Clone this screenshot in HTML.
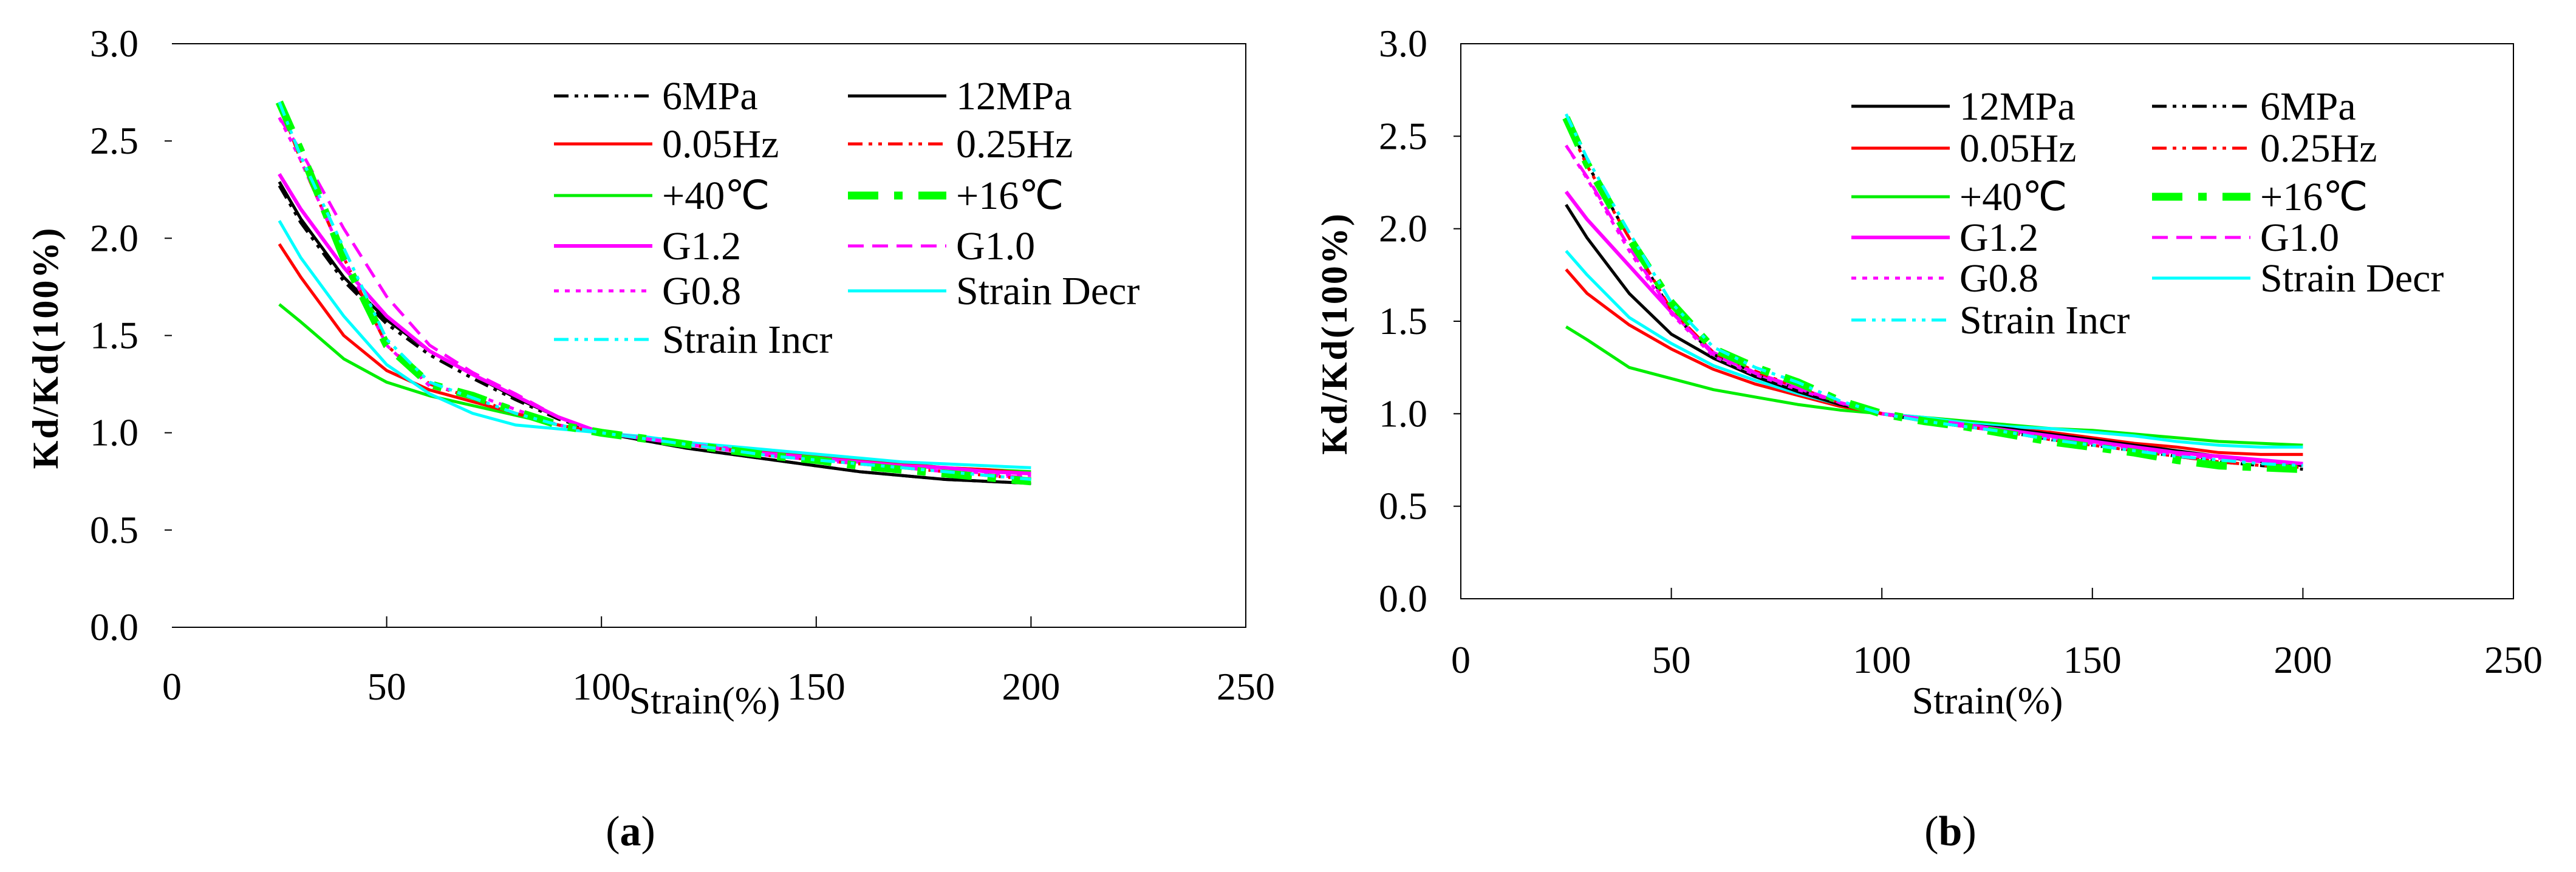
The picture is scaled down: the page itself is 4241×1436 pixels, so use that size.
<!DOCTYPE html>
<html><head><meta charset="utf-8"><style>
html,body{margin:0;padding:0;background:#fff;}
svg{display:block;font-family:"Liberation Serif","Times New Roman",serif;}
svg text{font-family:"Liberation Serif","Times New Roman",serif !important;fill:#000;}
</style></head><body>
<svg id="fig" width="4241" height="1436" viewBox="0 0 4241 1436" xmlns="http://www.w3.org/2000/svg" font-family="Liberation Serif, serif"></svg>
<script>
const strainX = [25,30,40,50,60,70,80,90,100,110,120,130,140,150,160,170,180,190,200];
const xTickLabels = ["0","50","100","150","200","250"];
const yTickLabels = ["0.0","0.5","1.0","1.5","2.0","2.5","3.0"];
const a6MPa   = [2.27,2.08,1.78,1.56,1.4,1.28,1.17,1.07,1.0,0.96,0.92,0.89,0.86,0.83,0.8,0.78,0.76,0.75,0.74];
const a12MPa  = [2.29,2.1,1.8,1.58,1.42,1.3,1.18,1.08,1.0,0.96,0.92,0.89,0.86,0.83,0.8,0.78,0.76,0.75,0.74];
const a005Hz  = [1.97,1.8,1.5,1.32,1.22,1.16,1.1,1.04,1.0,0.97,0.94,0.92,0.9,0.88,0.86,0.84,0.82,0.81,0.79];
const a025Hz  = [2.7,2.4,1.9,1.45,1.25,1.18,1.1,1.04,1.0,0.97,0.94,0.91,0.88,0.86,0.84,0.82,0.8,0.78,0.76];
const a40C    = [1.66,1.57,1.38,1.26,1.19,1.14,1.09,1.04,1.0,0.97,0.94,0.92,0.9,0.88,0.86,0.84,0.82,0.81,0.8];
const a16C    = [2.7,2.45,1.9,1.45,1.25,1.19,1.11,1.04,1.0,0.97,0.94,0.91,0.88,0.86,0.83,0.81,0.79,0.77,0.75];
const aG12    = [2.33,2.15,1.85,1.6,1.42,1.3,1.19,1.08,1.0,0.97,0.94,0.91,0.89,0.87,0.85,0.83,0.82,0.8,0.79];
const aG10    = [2.62,2.45,2.05,1.7,1.45,1.31,1.2,1.08,1.0,0.97,0.94,0.91,0.88,0.86,0.84,0.82,0.8,0.78,0.77];
const aG08    = [2.62,2.4,1.9,1.45,1.24,1.2,1.12,1.04,1.0,0.97,0.94,0.92,0.89,0.87,0.85,0.83,0.81,0.79,0.78];
const aDecr   = [2.09,1.9,1.6,1.35,1.2,1.1,1.04,1.02,1.0,0.98,0.95,0.93,0.91,0.89,0.87,0.85,0.84,0.83,0.82];
const aIncr   = [2.7,2.42,1.95,1.48,1.26,1.18,1.1,1.04,1.0,0.97,0.94,0.91,0.88,0.86,0.84,0.82,0.8,0.78,0.76];
const b12MPa  = [2.13,1.95,1.65,1.43,1.3,1.2,1.12,1.05,1.0,0.97,0.94,0.92,0.89,0.86,0.83,0.8,0.77,0.74,0.72];
const b6MPa   = [2.6,2.35,1.95,1.55,1.32,1.22,1.13,1.05,1.0,0.96,0.93,0.9,0.86,0.83,0.8,0.77,0.74,0.72,0.7];
const b005Hz  = [1.78,1.65,1.48,1.35,1.24,1.16,1.1,1.04,1.0,0.97,0.94,0.92,0.9,0.87,0.84,0.82,0.79,0.78,0.78];
const b025Hz  = [2.58,2.34,1.95,1.56,1.33,1.23,1.14,1.06,1.0,0.96,0.93,0.9,0.86,0.83,0.8,0.77,0.74,0.72,0.71];
const b40C    = [1.47,1.4,1.25,1.19,1.13,1.09,1.05,1.02,1.0,0.98,0.96,0.94,0.92,0.91,0.89,0.87,0.85,0.84,0.83];
const b16C    = [2.6,2.35,1.95,1.6,1.35,1.25,1.17,1.07,1.0,0.96,0.93,0.89,0.85,0.82,0.79,0.75,0.72,0.71,0.7];
const bG12    = [2.2,2.05,1.8,1.55,1.33,1.22,1.14,1.06,1.0,0.97,0.94,0.91,0.88,0.85,0.82,0.79,0.77,0.75,0.73];
const bG10    = [2.45,2.28,1.9,1.55,1.32,1.22,1.14,1.06,1.0,0.97,0.93,0.9,0.87,0.84,0.81,0.78,0.76,0.74,0.73];
const bG08    = [2.45,2.27,1.88,1.54,1.31,1.21,1.13,1.06,1.0,0.97,0.93,0.9,0.87,0.84,0.81,0.78,0.76,0.74,0.73];
const bDecr   = [1.88,1.75,1.52,1.38,1.26,1.18,1.11,1.05,1.0,0.98,0.95,0.93,0.92,0.9,0.88,0.85,0.83,0.82,0.82];
const bIncr   = [2.62,2.38,1.98,1.6,1.36,1.25,1.17,1.07,1.0,0.96,0.93,0.9,0.86,0.83,0.8,0.77,0.75,0.73,0.72];

const NS="http://www.w3.org/2000/svg";
const svg=document.getElementById('fig');
const FONT='Liberation Serif, Times New Roman, serif';
function mk(tag,attrs,parent){const e=document.createElementNS(NS,tag);for(const k in attrs)e.setAttribute(k,attrs[k]);if(tag==='text')e.setAttribute('font-family',FONT);(parent||svg).appendChild(e);return e;}

const styles={
 "6MPa":{c:"#000",w:5,d:"24 10 6 10 6 10"},
 "12MPa":{c:"#000",w:5,d:""},
 "0.05Hz":{c:"#ff0000",w:5,d:""},
 "0.25Hz":{c:"#ff0000",w:5,d:"24 10 6 10 6 10"},
 "+40℃":{c:"#00ee00",w:5,d:""},
 "+16℃":{c:"#00ff00",w:13,d:"50 26 14 26"},
 "G1.2":{c:"#ff00ff",w:6,d:""},
 "G1.0":{c:"#ff00ff",w:5,d:"26 14"},
 "G0.8":{c:"#ff00ff",w:5,d:"8 10"},
 "Strain Decr":{c:"#00ffff",w:5,d:""},
 "Strain Incr":{c:"#00ffff",w:5,d:"24 10 6 10 6 10"}
};

function chart(cfg){
 const g=mk('g',{});
 
 
 const {L,R,T,B}=cfg;
 const xs=v=>L+(v/250)*(R-L);
 const ys=v=>B-(v/3)*(B-T);
 const frame=mk('path',{d:cfg.leftAxis?`M${L},${T}H${R}V${B}H${L}Z`:`M${L},${T}H${R}V${B}H${L}`,fill:'none',stroke:'#000','stroke-width':2},g);
 
 
 yTickLabels.forEach((t,i)=>{
  const v=i*0.5,y=ys(v);
  if(i>0&&i<6){const tk=mk('line',{x1:L-12,x2:L,y1:y,y2:y,stroke:'#000','stroke-width':2},g);
   }
  const tx=mk('text',{x:L-55,y:y+21,'font-size':64,'text-anchor':'end'},g);
  tx.textContent=t;
  
  
 });
 xTickLabels.forEach((t,i)=>{
  const x=xs(i*50);
  if(i>0&&i<5){const tk=mk('line',{x1:x,x2:x,y1:B-18,y2:B,stroke:'#000','stroke-width':2},g);
   }
  const tx=mk('text',{x:x,y:cfg.xLabY,'font-size':64,'text-anchor':'middle'},g);
  tx.textContent=t;
  
  
 });
 const xt=mk('text',{x:cfg.xTitleX,y:cfg.xTitleY,'font-size':64,'text-anchor':'middle'},g);
 xt.textContent='Strain(%)';
 
 
 const yt=mk('text',{x:0,y:0,'font-size':60,'font-weight':'bold','text-anchor':'middle',transform:`translate(${L-188},${(T+B)/2+20}) rotate(-90)`,'letter-spacing':'3'},g);
 yt.textContent='Kd/Kd(100%)';
 
 
 cfg.series.forEach(([nm,vals])=>{
  const s=styles[nm];
  const pts=strainX.map((x,i)=>xs(x).toFixed(1)+','+ys(vals[i]).toFixed(1)).join(' ');
  const pl=mk('polyline',{points:pts,fill:'none',stroke:s.c,'stroke-width':s.w,'stroke-linejoin':'round'},g);
  if(s.d)pl.setAttribute('stroke-dasharray',s.d);
  
  
 });
 cfg.legend.forEach((nm,i)=>{
  const col=i%2,row=Math.floor(i/2);
  const s=styles[nm];
  const y=cfg.legRows[row];
  const lx=cfg.legCols[col];
  const le=mk('g',{},g);
  
  
  const ln=mk('line',{x1:lx,x2:lx+162,y1:y,y2:y,stroke:s.c,'stroke-width':s.w},le);
  if(s.d)ln.setAttribute('stroke-dasharray',s.d);
  
  
  const tx=mk('text',{x:lx+178,y:y+22,'font-size':66},le);
  tx.textContent=nm;
  
  
 });
 const cap=mk('text',{x:cfg.capX,y:1392,'font-size':70,'text-anchor':'middle'},g);
 cap.innerHTML='(<tspan font-weight="bold">'+cfg.cap+'</tspan>)';
 
 
}

chart({name:'chart-a',L:283,R:2051,T:72,B:1033,leftAxis:false,xLabY:1152,xTitleX:1160,xTitleY:1175,capX:1038,cap:'a',
 legCols:[912,1396],legRows:[158,237,322,405,479,559],
 legend:["6MPa","12MPa","0.05Hz","0.25Hz","+40℃","+16℃","G1.2","G1.0","G0.8","Strain Decr","Strain Incr"],
 series:[["+40℃",a40C],["0.05Hz",a005Hz],["Strain Decr",aDecr],["12MPa",a12MPa],["6MPa",a6MPa],["G1.2",aG12],["G1.0",aG10],["0.25Hz",a025Hz],["G0.8",aG08],["+16℃",a16C],["Strain Incr",aIncr]]});
chart({name:'chart-b',L:2405,R:4138,T:72,B:986,leftAxis:true,xLabY:1108,xTitleX:3272,xTitleY:1175,capX:3211,cap:'b',
 legCols:[3048,3543],legRows:[175,244,324,391,458,527],
 legend:["12MPa","6MPa","0.05Hz","0.25Hz","+40℃","+16℃","G1.2","G1.0","G0.8","Strain Decr","Strain Incr"],
 series:[["+40℃",b40C],["0.05Hz",b005Hz],["Strain Decr",bDecr],["12MPa",b12MPa],["G1.2",bG12],["6MPa",b6MPa],["0.25Hz",b025Hz],["G1.0",bG10],["G0.8",bG08],["+16℃",b16C],["Strain Incr",bIncr]]});
</script>
</body></html>
